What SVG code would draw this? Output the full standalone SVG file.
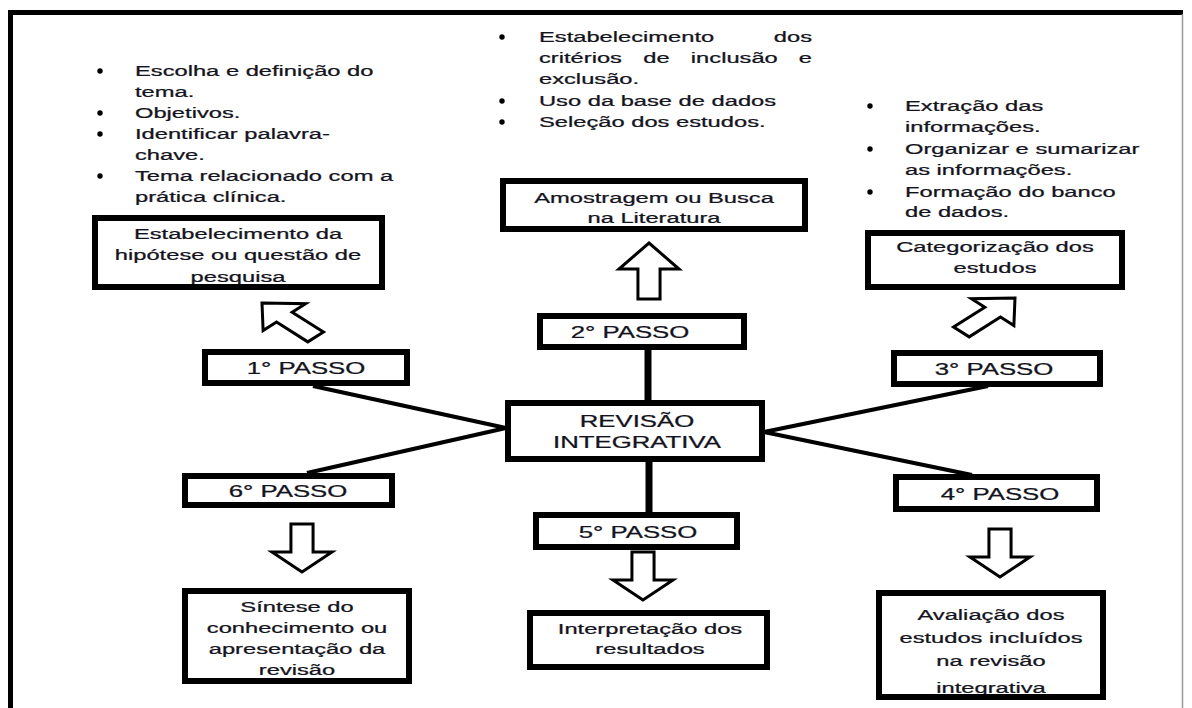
<svg xmlns="http://www.w3.org/2000/svg" xmlns:xlink="http://www.w3.org/1999/xlink" width="1192" height="708" viewBox="0 0 1192 708">
<style>
.bg{fill:#fff;stroke:none}
.bd{fill:none;stroke:#000;stroke-width:6}
.t{font-family:"Liberation Sans",Arial,Helvetica,sans-serif;font-size:15px;fill:#141420;stroke:#141420;stroke-width:0.25}
.tc{text-anchor:middle}
.big{font-size:16.3px}
.bul{fill:#000}
.arr{fill:#fff;stroke:#000;stroke-width:3;stroke-linejoin:miter;vector-effect:non-scaling-stroke}
.conn{stroke:#000;fill:none}
.diag{stroke-width:4}
.vert{stroke-width:7}
.frame{stroke:#000;stroke-width:5}
</style>
<defs>
<polygon id="blk" class="arr" points="0,0 19,20 7,20 7,48 -7,48 -7,20 -19,20"/>
<polygon id="blk2" class="arr" points="0,0 19,26 7,26 7,56 -7,56 -7,26 -19,26"/>
</defs>
<rect x="0" y="0" width="1192" height="708" fill="#fff"/>
<g id="frame">
<line class="frame" x1="8" y1="12.5" x2="1183" y2="12.5"/>
<line class="frame" x1="10.5" y1="10" x2="10.5" y2="708"/>
<line x1="1182.5" y1="14" x2="1182.5" y2="708" stroke="#9a9a9a" stroke-width="1.5"/>
</g>
<g id="connectors">
<line class="conn vert" x1="648" y1="350" x2="648" y2="402"/>
<line class="conn vert" x1="649" y1="460" x2="649" y2="514"/>
<line class="conn diag" x1="313" y1="386" x2="506" y2="428"/>
<line class="conn diag" x1="307" y1="473" x2="506" y2="428"/>
<line class="conn diag" x1="764" y1="432" x2="988" y2="386"/>
<line class="conn diag" x1="764" y1="432" x2="972" y2="475"/>
<use xlink:href="#blk" transform="translate(262,303) scale(1.58,1) rotate(-45)"/>
<use xlink:href="#blk2" transform="translate(649,243) scale(1.58,1)"/>
<use xlink:href="#blk" transform="translate(1015,298) scale(1.58,1) rotate(45)"/>
<use xlink:href="#blk" transform="translate(1000,577) scale(1.58,1) rotate(180)"/>
<use xlink:href="#blk" transform="translate(643,600) scale(1.58,1) rotate(180)"/>
<use xlink:href="#blk" transform="translate(302,572) scale(1.58,1) rotate(180)"/>
</g>
<g id="notes-1">
<circle class="bul" cx="100" cy="71" r="2.7"/>
<circle class="bul" cx="100" cy="113" r="2.7"/>
<circle class="bul" cx="100" cy="134" r="2.7"/>
<circle class="bul" cx="100" cy="176" r="2.7"/>
<g class="t" transform="translate(135,0) scale(1.58,1)">
<text y="76">Escolha e definição do</text>
<text y="97">tema.</text>
<text y="118">Objetivos.</text>
<text y="139">Identificar palavra-</text>
<text y="160">chave.</text>
<text y="181">Tema relacionado com a</text>
<text y="202">prática clínica.</text>
</g>
</g>
<g id="notes-2">
<circle class="bul" cx="502" cy="37" r="2.7"/>
<circle class="bul" cx="502" cy="101" r="2.7"/>
<circle class="bul" cx="502" cy="122" r="2.7"/>
<g class="t" transform="translate(539,0) scale(1.58,1)">
<text y="42">Estabelecimento</text>
<text x="172.8" y="42" text-anchor="end">dos</text>
<text y="63">critérios</text>
<text x="66" y="63">de</text>
<text x="96.1" y="63">inclusão</text>
<text x="172.8" y="63" text-anchor="end">e</text>
<text y="84">exclusão.</text>
<text y="106">Uso da base de dados</text>
<text y="127">Seleção dos estudos.</text>
</g>
</g>
<g id="notes-3">
<circle class="bul" cx="870" cy="106" r="2.7"/>
<circle class="bul" cx="870" cy="149" r="2.7"/>
<circle class="bul" cx="870" cy="192" r="2.7"/>
<g class="t" transform="translate(905,0) scale(1.58,1)">
<text y="111">Extração das</text>
<text y="132">informações.</text>
<text y="154">Organizar e sumarizar</text>
<text y="175">as informações.</text>
<text y="197">Formação do banco</text>
<text y="217">de dados.</text>
</g>
</g>
<g id="box-hipotese">
<rect class="bg" x="95" y="218" width="287" height="69"/>
<g class="t tc" transform="translate(238,0) scale(1.58,1)">
<text y="239">Estabelecimento da</text>
<text y="260">hipótese ou questão de</text>
<text y="282">pesquisa</text>
</g>
<rect class="bd" x="95" y="218" width="287" height="69"/>
</g>
<g id="box-amostragem">
<rect class="bg" x="503" y="181" width="302" height="48"/>
<g class="t tc" transform="translate(654,0) scale(1.58,1)">
<text y="203">Amostragem ou Busca</text>
<text y="223">na Literatura</text>
</g>
<rect class="bd" x="503" y="181" width="302" height="48"/>
</g>
<g id="box-categorizacao">
<rect class="bg" x="868" y="233" width="254" height="54"/>
<g class="t tc" transform="translate(995,0) scale(1.58,1)">
<text y="252">Categorização dos</text>
<text y="273">estudos</text>
</g>
<rect class="bd" x="868" y="233" width="254" height="54"/>
</g>
<g id="passo-1">
<rect class="bg" x="205" y="352" width="202" height="31"/>
<g class="t tc big" transform="translate(306,0) scale(1.58,1)"><text y="374">1° PASSO</text></g>
<rect class="bd" x="205" y="352" width="202" height="31"/>
</g>
<g id="passo-2">
<rect class="bg" x="540" y="316" width="204" height="31"/>
<g class="t tc big" transform="translate(630,0) scale(1.58,1)"><text y="338">2° PASSO</text></g>
<rect class="bd" x="540" y="316" width="204" height="31"/>
</g>
<g id="passo-3">
<rect class="bg" x="894" y="353" width="206" height="31"/>
<g class="t tc big" transform="translate(994,0) scale(1.58,1)"><text y="375">3° PASSO</text></g>
<rect class="bd" x="894" y="353" width="206" height="31"/>
</g>
<g id="revisao">
<rect class="bg" x="508" y="403" width="254" height="56"/>
<g class="t tc big" transform="translate(637,0) scale(1.58,1)">
<text y="427">REVISÃO</text>
<text y="448">INTEGRATIVA</text>
</g>
<rect class="bd" x="508" y="403" width="254" height="56"/>
</g>
<g id="passo-6">
<rect class="bg" x="185" y="476" width="207" height="29"/>
<g class="t tc big" transform="translate(288,0) scale(1.58,1)"><text y="497">6° PASSO</text></g>
<rect class="bd" x="185" y="476" width="207" height="29"/>
</g>
<g id="passo-4">
<rect class="bg" x="896" y="477" width="201" height="32"/>
<g class="t tc big" transform="translate(1000,0) scale(1.58,1)"><text y="500">4° PASSO</text></g>
<rect class="bd" x="896" y="477" width="201" height="32"/>
</g>
<g id="passo-5">
<rect class="bg" x="536" y="515" width="201" height="32"/>
<g class="t tc big" transform="translate(638,0) scale(1.58,1)"><text y="538">5° PASSO</text></g>
<rect class="bd" x="536" y="515" width="201" height="32"/>
</g>
<g id="box-sintese">
<rect class="bg" x="185" y="591" width="224" height="90"/>
<g class="t tc" transform="translate(297,0) scale(1.58,1)">
<text y="612">Síntese do</text>
<text y="633">conhecimento ou</text>
<text y="654">apresentação da</text>
<text y="675">revisão</text>
</g>
<rect class="bd" x="185" y="591" width="224" height="90"/>
</g>
<g id="box-interpretacao">
<rect class="bg" x="530" y="613" width="237" height="54"/>
<g class="t tc" transform="translate(650,0) scale(1.58,1)">
<text y="634">Interpretação dos</text>
<text y="654">resultados</text>
</g>
<rect class="bd" x="530" y="613" width="237" height="54"/>
</g>
<g id="box-avaliacao">
<rect class="bg" x="879" y="593" width="224" height="104"/>
<g class="t tc" transform="translate(991,0) scale(1.58,1)">
<text y="620">Avaliação dos</text>
<text y="643">estudos incluídos</text>
<text y="666">na revisão</text>
<text y="693">integrativa</text>
</g>
<rect class="bd" x="879" y="593" width="224" height="104"/>
</g>
</svg>
